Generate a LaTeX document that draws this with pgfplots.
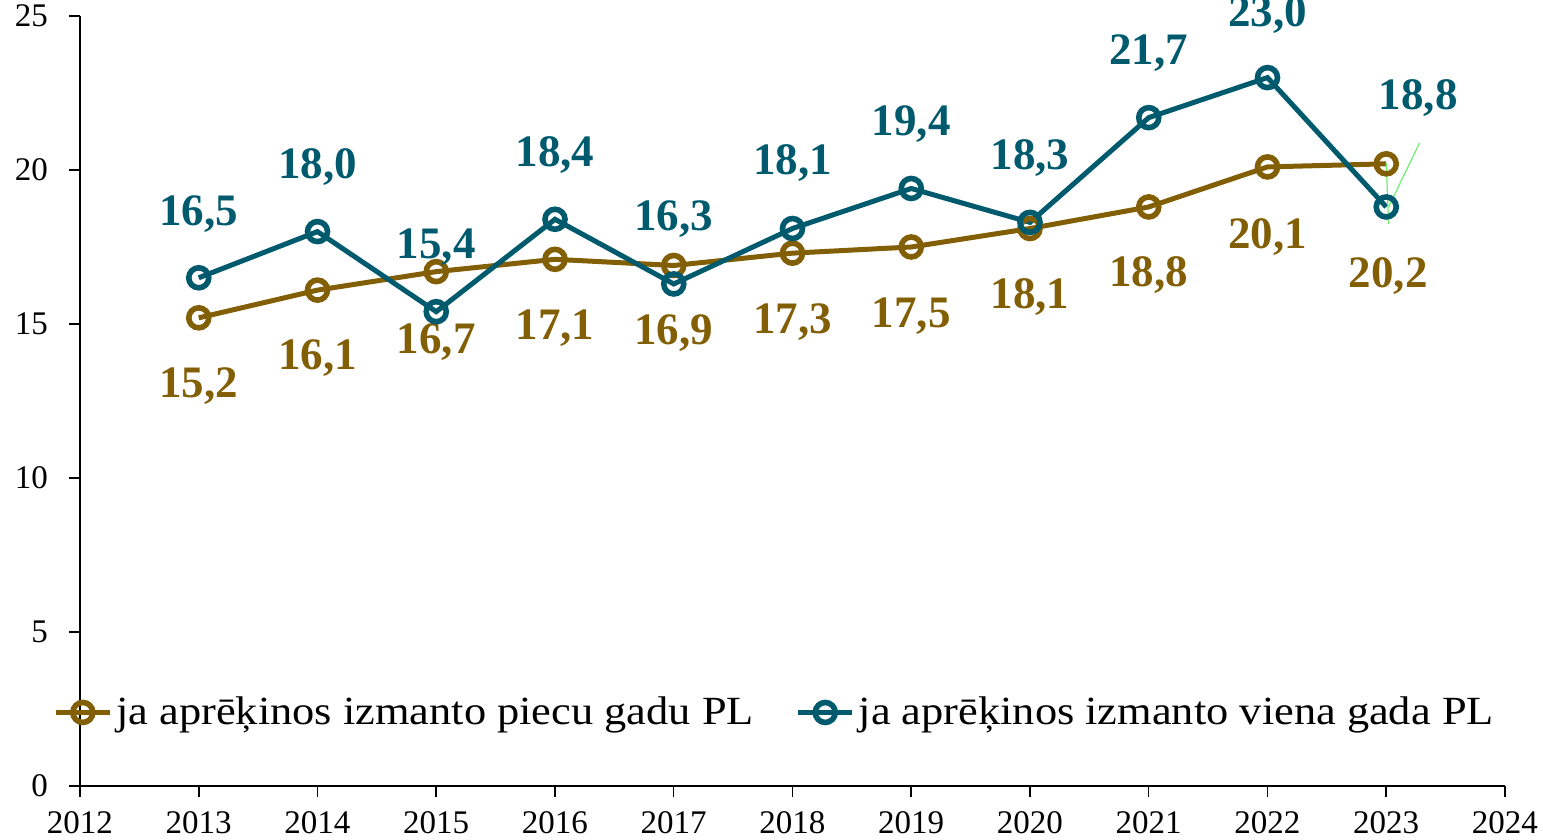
\documentclass[border=0pt]{standalone}
\usepackage{fontspec}
\setmainfont{Liberation Serif}
\newfontfamily\legfont[FakeStretch=1.11]{Liberation Serif}
\usepackage{pgfplots}
\usepackage{pgfplotstable}
\pgfplotsset{compat=1.18}
\definecolor{cbrown}{RGB}{130,95,5}
\definecolor{cteal}{RGB}{0,90,110}
\definecolor{cgreen}{RGB}{110,240,110}
\pgfplotstableread{
x y lab dx dy
2013 15.2 15,2 0 -34
2014 16.1 16,1 0 -34
2015 16.7 16,7 0 -35
2016 17.1 17,1 0 -34.5
2017 16.9 16,9 0 -34
2018 17.3 17,3 0 -34.5
2019 17.5 17,5 0 -34.5
2020 18.1 18,1 0 -34.5
2021 18.8 18,8 0 -34
2022 20.1 20,1 0 -35
2023 20.2 20,2 1 -56
}\piecu
\pgfplotstableread{
x y lab dx dy
2013 16.5 16,5 0 32
2014 18.0 18,0 0 32.5
2015 15.4 15,4 0 32.5
2016 18.4 18,4 0 32
2017 16.3 16,3 0 32.5
2018 18.1 18,1 0 32.5
2019 19.4 19,4 0 32
2020 18.3 18,3 0 32
2021 21.7 21,7 0 32.5
2022 23.0 23,0 0 31.5
2023 18.8 18,8 16 54.5
}\viena
\begin{document}
\begin{tikzpicture}
\begin{axis}[
  scale only axis,
  width=712.5pt, height=385pt,
  xmin=2012, xmax=2024, ymin=0, ymax=25,
  xtick={2012,...,2024}, ytick={0,5,...,25},
  axis x line*=bottom, axis y line*=left,
  axis line style={line width=0.8pt, black},
  tick style={line width=0.8pt, black},
  tick align=outside, major tick length=5.5pt,
  x tick label style={/pgf/number format/1000 sep={}, yshift=-3.5pt},
  y tick label style={xshift=-7pt},
  /pgf/number format/assume math mode=true,
  ticklabel style={font=\fontsize{16.5}{18}\selectfont},
  clip=false,
  legend columns=2,
  legend style={draw=none, fill=none, inner sep=0pt, at={(rel axis cs:-0.019,0.0955)}, anchor=west,
    font=\legfont\fontsize{20}{22}\selectfont, column sep=0pt,
    /tikz/every even column/.append style={column sep=19pt},
    nodes={inner xsep=2pt}},
  legend image code/.code={\draw[mark repeat=2,mark phase=2] plot coordinates {(0pt,0pt) (13.5pt,0pt) (27pt,0pt)};},
  nodes near coords,
  point meta=explicit symbolic,
  visualization depends on={\thisrow{dy} \as \dy},
  visualization depends on={\thisrow{dx} \as \dx},
  every node near coord/.append style={anchor=center, yshift=\dy pt, xshift=\dx pt,
     font=\fontsize{22.5}{24}\selectfont\bfseries},
]
\addplot[cbrown, line width=2.5pt, mark=o, mark size=5pt,
  mark options={fill=white, line width=2.8pt},
  every node near coord/.append style={text=cbrown}]
  table[x=x, y=y, meta=lab] {\piecu};
\addlegendentry{ja aprēķinos izmanto piecu gadu PL}
\addplot[cteal, line width=2.5pt, mark=o, mark size=5pt,
  mark options={fill=white, line width=2.8pt},
  every node near coord/.append style={text=cteal}]
  table[x=x, y=y, meta=lab] {\viena};
\addlegendentry{ja aprēķinos izmanto viena gada PL}
\draw[cgreen, line width=0.6pt] (axis cs:2023,20.23) -- (axis cs:2023.02,18.25);
\draw[cgreen, line width=0.6pt] (axis cs:2023.02,18.8) -- (axis cs:2023.28,20.88);
\coordinate (sw) at (rel axis cs:0,0);
\end{axis}
\pgfresetboundingbox
\path (sw) ++(-40pt,-27pt) rectangle ++(771.5pt,420pt);
\end{tikzpicture}
\end{document}
